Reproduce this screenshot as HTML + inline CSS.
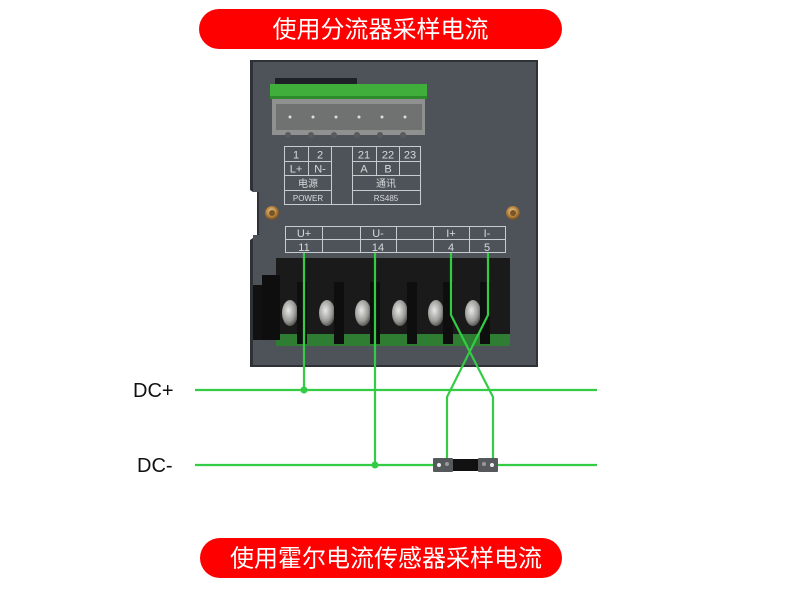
<!DOCTYPE html>
<html><head><meta charset="utf-8"><style>
html,body{margin:0;padding:0;background:#fff;width:790px;height:590px;overflow:hidden}
svg{display:block}
</style></head><body>
<svg width="790" height="590" viewBox="0 0 790 590" xmlns="http://www.w3.org/2000/svg" font-family="Liberation Sans, Noto Sans CJK SC, sans-serif">
<defs>
<radialGradient id="brass" cx="0.45" cy="0.4" r="0.6"><stop offset="0" stop-color="#f4d9a0"/><stop offset="0.6" stop-color="#b5813e"/><stop offset="1" stop-color="#6b4a22"/></radialGradient>
<radialGradient id="screw" cx="0.4" cy="0.4" r="0.7"><stop offset="0" stop-color="#e8e8e8"/><stop offset="0.6" stop-color="#9a9a96"/><stop offset="1" stop-color="#3a3a38"/></radialGradient>
</defs>
<rect x="199" y="9" width="363" height="40" rx="20" fill="#ff0000"/>
<text x="380.5" y="37.5" font-size="24" fill="#fff" text-anchor="middle" font-family="Noto Sans CJK SC, sans-serif">使用分流器采样电流</text>
<rect x="200" y="538" width="362" height="40" rx="20" fill="#ff0000"/>
<text x="386" y="566.5" font-size="24" fill="#fff" text-anchor="middle" font-family="Noto Sans CJK SC, sans-serif">使用霍尔电流传感器采样电流</text>

<path d="M250 60 H538 V367 H250 V240 L256 236 V194 L250 190 Z" fill="#2e3236"/>
<rect x="253" y="62" width="283" height="303" fill="#4d5359"/>
<rect x="250" y="192" width="7" height="43" fill="#fff"/>
<rect x="257" y="192" width="2" height="43" fill="#2e3236"/>
<rect x="275" y="78" width="82" height="8" fill="#1e2226"/>
<rect x="270" y="84" width="157" height="14" fill="#3fae3a"/>
<rect x="270" y="96" width="157" height="3" fill="#2c8a2a"/>
<rect x="272" y="99" width="153" height="36" fill="#8e918f"/>
<rect x="276" y="104" width="146" height="26" fill="#6f7270"/>
<g fill="#dddddd">
<circle cx="290" cy="117" r="1.5"/><circle cx="313" cy="117" r="1.5"/><circle cx="336" cy="117" r="1.5"/><circle cx="359" cy="117" r="1.5"/><circle cx="382" cy="117" r="1.5"/><circle cx="405" cy="117" r="1.5"/>
</g>
<g fill="#5a5c5b">
<circle cx="288" cy="135" r="3"/><circle cx="311" cy="135" r="3"/><circle cx="334" cy="135" r="3"/><circle cx="357" cy="135" r="3"/><circle cx="380" cy="135" r="3"/><circle cx="403" cy="135" r="3"/>
</g>
<g stroke="#c9cccf" stroke-width="1" fill="none">
<rect x="284.5" y="146.5" width="136" height="58"/>
<line x1="284" y1="161.5" x2="331" y2="161.5"/><line x1="284" y1="175.5" x2="331" y2="175.5"/><line x1="284" y1="190.5" x2="331" y2="190.5"/>
<line x1="352" y1="161.5" x2="421" y2="161.5"/><line x1="352" y1="175.5" x2="421" y2="175.5"/><line x1="352" y1="190.5" x2="421" y2="190.5"/>
<line x1="308.5" y1="146" x2="308.5" y2="175"/><line x1="331.5" y1="146" x2="331.5" y2="204"/><line x1="352.5" y1="146" x2="352.5" y2="204"/>
<line x1="376.5" y1="146" x2="376.5" y2="175"/><line x1="399.5" y1="146" x2="399.5" y2="175"/>
</g>
<g fill="#d8dadc" font-size="11" text-anchor="middle">
<text x="296" y="158.5">1</text><text x="320" y="158.5">2</text>
<text x="364" y="158.5">21</text><text x="388" y="158.5">22</text><text x="410" y="158.5">23</text>
<text x="296" y="172.5">L+</text><text x="320" y="172.5">N-</text>
<text x="364" y="172.5">A</text><text x="388" y="172.5">B</text>
<text x="308" y="187" font-size="10" font-family="Noto Sans CJK SC, sans-serif">电源</text>
<text x="386" y="187" font-size="10" font-family="Noto Sans CJK SC, sans-serif">通讯</text>
<text x="308" y="201" font-size="8">POWER</text>
<text x="386" y="201" font-size="8">RS485</text>
</g>
<circle cx="272" cy="213" r="7" fill="url(#brass)"/><circle cx="272" cy="213" r="3" fill="#7a5526"/>
<circle cx="513" cy="213" r="7" fill="url(#brass)"/><circle cx="513" cy="213" r="3" fill="#7a5526"/>
<g stroke="#c9cccf" stroke-width="1" fill="none">
<rect x="285.5" y="226.5" width="220" height="26"/>
<line x1="285" y1="239.5" x2="505" y2="239.5"/>
<line x1="322.5" y1="226" x2="322.5" y2="253"/><line x1="360.5" y1="226" x2="360.5" y2="253"/><line x1="396.5" y1="226" x2="396.5" y2="253"/><line x1="433.5" y1="226" x2="433.5" y2="253"/><line x1="469.5" y1="226" x2="469.5" y2="253"/>
</g>
<g fill="#d8dadc" font-size="11" text-anchor="middle">
<text x="304" y="237">U+</text><text x="378" y="237">U-</text><text x="451" y="237">I+</text><text x="487" y="237">I-</text>
<text x="304" y="251">11</text><text x="378" y="251">14</text><text x="451" y="251">4</text><text x="487" y="251">5</text>
</g>
<rect x="276" y="258" width="234" height="87" fill="#1a1a1a"/>
<rect x="276" y="334" width="234" height="12" fill="#2f7d32"/>
<rect x="253" y="285" width="20" height="55" fill="#111"/>
<g fill="url(#screw)">
<ellipse cx="290" cy="313" rx="8" ry="13"/><ellipse cx="327" cy="313" rx="8" ry="13"/><ellipse cx="363" cy="313" rx="8" ry="13"/><ellipse cx="400" cy="313" rx="8" ry="13"/><ellipse cx="436" cy="313" rx="8" ry="13"/><ellipse cx="473" cy="313" rx="8" ry="13"/>
</g>
<g fill="#0e0e0e">
<rect x="297" y="282" width="10" height="62"/><rect x="334" y="282" width="10" height="62"/><rect x="370" y="282" width="10" height="62"/><rect x="407" y="282" width="10" height="62"/><rect x="443" y="282" width="10" height="62"/><rect x="480" y="282" width="10" height="62"/>
<rect x="262" y="275" width="18" height="65"/>
</g>
<g stroke="#33cc44" stroke-width="2.2" fill="none">
<line x1="195" y1="390" x2="597" y2="390"/>
<line x1="195" y1="465" x2="597" y2="465"/>
<line x1="304" y1="253" x2="304" y2="390"/>
<line x1="375" y1="253" x2="375" y2="465"/>
<polyline points="451,253 451,315 493,397 493,462"/>
<polyline points="488,253 488,315 447,397 447,462"/>
</g>
<circle cx="304" cy="390" r="3.5" fill="#33cc44"/>
<circle cx="375" cy="465" r="3.5" fill="#33cc44"/>
<rect x="453" y="459" width="26" height="12" fill="#111"/>
<rect x="433" y="458" width="20" height="14" rx="1" fill="#55595c"/>
<rect x="478" y="458" width="20" height="14" rx="1" fill="#55595c"/>
<circle cx="439" cy="465" r="2" fill="#eee"/><circle cx="447" cy="464" r="2" fill="#999"/>
<circle cx="484" cy="464" r="2" fill="#999"/><circle cx="492" cy="465" r="2" fill="#eee"/>
<text x="133" y="397" font-size="20" fill="#111">DC+</text>
<text x="137" y="472" font-size="20" fill="#111">DC-</text>
</svg>
</body></html>
